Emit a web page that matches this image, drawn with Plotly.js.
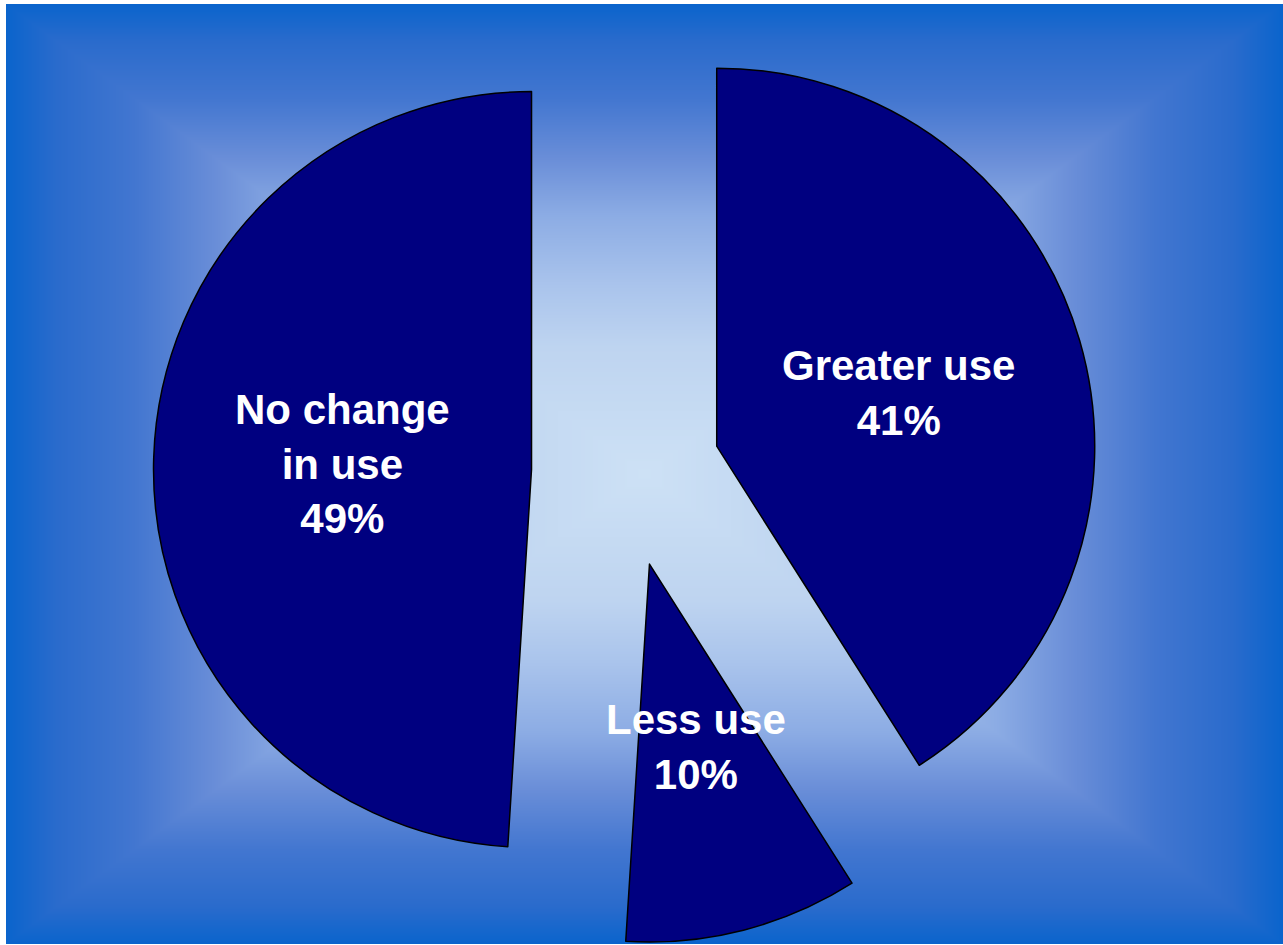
<!DOCTYPE html>
<html>
<head>
<meta charset="utf-8">
<script src="https://cdn.plot.ly/plotly-3.0.1.min.js"></script>
<style>
  html, body { margin: 0; padding: 0; background: #ffffff; }
  #chart { position: absolute; left: 0; top: 0; width: 1283px; height: 945px; background-repeat: no-repeat; }
</style>
</head>
<body>
<div id="chart"></div>
<script>
// ---- data ----
const categories = ['Greater use', 'Less use', 'No change in use'];
const shares = [41, 10, 49];
const labelLines = ['Greater use', 'Less use', 'No change<br>in use'];

// ---- background: rectangular (box) gradient, light centre to blue edges ----
(function () {
  const W = 1283, H = 945;
  const x0 = 6, y0 = 4, x1 = 1283, y1 = 944;
  const cv = document.createElement('canvas');
  cv.width = W; cv.height = H;
  const ctx = cv.getContext('2d');
  ctx.fillStyle = '#ffffff';
  ctx.fillRect(0, 0, W, H);
  const img = ctx.getImageData(0, 0, W, H);
  const d = img.data;
  const stops = [
    [0.00, [205, 225, 245]],
    [0.27, [190, 212, 240]],
    [0.40, [170, 196, 236]],
    [0.55, [140, 172, 228]],
    [0.67, [106, 142, 216]],
    [0.80, [66, 118, 208]],
    [0.92, [42, 107, 204]],
    [1.00, [10, 100, 204]]
  ];
  function col(t) {
    for (let i = 1; i < stops.length; i++) {
      if (t <= stops[i][0]) {
        const a = stops[i - 1], b = stops[i];
        const f = (t - a[0]) / (b[0] - a[0]);
        return [0, 1, 2].map(k => a[1][k] + f * (b[1][k] - a[1][k]));
      }
    }
    return stops[stops.length - 1][1];
  }
  const cx = (x0 + x1) / 2, cy = (y0 + y1) / 2, hw = (x1 - x0) / 2, hh = (y1 - y0) / 2;
  for (let y = y0; y < y1; y++) {
    for (let x = x0; x < x1; x++) {
      const t = Math.min(1, Math.max(Math.abs(x + 0.5 - cx) / hw, Math.abs(y + 0.5 - cy) / hh));
      const c = col(t);
      const i = (y * W + x) * 4;
      d[i] = c[0]; d[i + 1] = c[1]; d[i + 2] = c[2]; d[i + 3] = 255;
    }
  }
  ctx.putImageData(img, 0, 0);
  document.getElementById('chart').style.backgroundImage = 'url(' + cv.toDataURL() + ')';
})();

// ---- pie geometry (layout) ----
const W = 1283, H = 945;
const domX = [0, 0.9758], domY = [0, 1];
const pull = 0.25;
const total = shares.reduce((a, b) => a + b, 0);

// label positions derived from slice angles
const pieCx = W * (domX[0] + domX[1]) / 2;
const pieCy = H * (1 - (domY[0] + domY[1]) / 2);
const pieR = Math.min(W * (domX[1] - domX[0]), H * (domY[1] - domY[0])) / (2 * (1 + pull));
let cum = 0;
const annotations = shares.map((v, i) => {
  const mid = (cum + v / 2) / total * 2 * Math.PI;
  cum += v;
  const dist = pull * pieR + 0.5 * pieR;
  const px = pieCx + dist * Math.sin(mid);
  const py = pieCy - dist * Math.cos(mid);
  return {
    xref: 'paper', yref: 'paper',
    x: px / W, y: 1 - py / H,
    xanchor: 'center', yanchor: 'middle',
    showarrow: false,
    text: '<b>' + labelLines[i] + '<br>' + v + '%</b>',
    align: 'center',
    font: { family: 'Liberation Sans, Arial, sans-serif', size: 42, color: '#ffffff' }
  };
});

const trace = {
  type: 'pie',
  labels: categories,
  values: shares,
  sort: false,
  direction: 'clockwise',
  rotation: 0,
  pull: [pull, pull, pull],
  textinfo: 'none',
  hoverinfo: 'none',
  showlegend: false,
  domain: { x: domX, y: domY },
  marker: {
    colors: ['#000080', '#000080', '#000080'],
    line: { color: '#000000', width: 1.5 }
  }
};

const layout = {
  width: W, height: H,
  margin: { l: 0, r: 0, t: 0, b: 0, pad: 0 },
  paper_bgcolor: 'rgba(0,0,0,0)',
  plot_bgcolor: 'rgba(0,0,0,0)',
  showlegend: false,
  annotations: annotations
};

Plotly.newPlot('chart', [trace], layout, { displayModeBar: false, staticPlot: true });
</script>
</body>
</html>
